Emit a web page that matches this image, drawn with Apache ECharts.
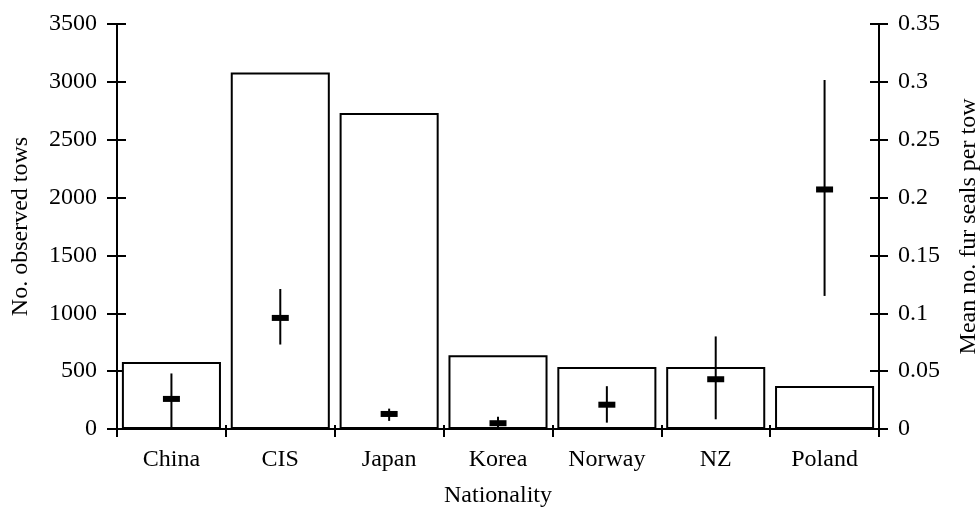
<!DOCTYPE html>
<html>
<head>
<meta charset="utf-8">
<script src="https://cdn.jsdelivr.net/npm/echarts@6/dist/echarts.min.js"></script>
<style>
  html, body { margin: 0; padding: 0; background: #fff; }
  #chart { width: 980px; height: 509px; }
</style>
</head>
<body>
<div id="chart"></div>
<script>
// Observed tows per fleet and mean fur-seal catch per tow (with interval)
const nations = ['China', 'CIS', 'Japan', 'Korea', 'Norway', 'NZ', 'Poland'];
const towCounts = [580, 3080, 2730, 637, 536, 536, 372];
const sealMean = [0.026, 0.096, 0.013, 0.005, 0.021, 0.043, 0.207];
const sealLow = [0.0, 0.073, 0.007, 0.0, 0.0055, 0.0084, 0.115];
const sealHigh = [0.048, 0.121, 0.0176, 0.0106, 0.037, 0.080, 0.3016];

const FONT = 'Liberation Serif';
const FS = 24;
const ink = '#000';

const errData = nations.map((n, i) => [i, sealMean[i], sealLow[i], sealHigh[i]]);

const chart = echarts.init(document.getElementById('chart'), null, { renderer: 'canvas' });

const leftBase = {
  type: 'value', min: 0, max: 3500, interval: 500, position: 'left', offset: 0,
  splitLine: { show: false }
};
const rightBase = {
  type: 'value', min: 0, max: 0.35, interval: 0.05, position: 'right', offset: 0,
  splitLine: { show: false }
};

chart.setOption({
  animation: false,
  backgroundColor: '#fff',
  textStyle: { fontFamily: FONT, color: ink },
  grid: { left: 117, right: 101, top: 24, bottom: 80, containLabel: false, outerBoundsMode: 'none' },
  xAxis: [
    {
      type: 'category', data: nations, position: 'bottom',
      axisLine: { lineStyle: { color: ink, width: 2 } },
      axisTick: { show: true, length: 8, lineStyle: { color: ink, width: 2 } },
      axisLabel: { color: ink, fontFamily: FONT, fontSize: FS, margin: 19 },
      name: 'Nationality', nameLocation: 'middle', nameGap: 55,
      nameTextStyle: { color: ink, fontFamily: FONT, fontSize: FS }
    },
    {
      type: 'category', data: nations, position: 'bottom', offset: 0,
      axisLine: { show: false },
      axisTick: { show: true, inside: true, length: 4, lineStyle: { color: ink, width: 2 } },
      axisLabel: { show: false }
    }
  ],
  yAxis: [
    Object.assign({}, leftBase, {
      axisLine: { show: true, lineStyle: { color: ink, width: 2 } },
      axisTick: { show: true, length: 10, lineStyle: { color: ink, width: 2 } },
      axisLabel: { color: ink, fontFamily: FONT, fontSize: FS, margin: 20,
        formatter: v => String(v) },
      name: 'No. observed tows', nameLocation: 'middle', nameGap: 84, nameRotate: 90,
      nameTextStyle: { color: ink, fontFamily: FONT, fontSize: FS }
    }),
    Object.assign({}, rightBase, {
      axisLine: { show: true, lineStyle: { color: ink, width: 2 } },
      axisTick: { show: true, length: 9, lineStyle: { color: ink, width: 2 } },
      axisLabel: { color: ink, fontFamily: FONT, fontSize: FS, margin: 19,
        formatter: v => String(+v.toFixed(2)) },
      name: 'Mean no. fur seals per tow', nameLocation: 'middle', nameGap: 78, nameRotate: 90,
      nameTextStyle: { color: ink, fontFamily: FONT, fontSize: FS }
    }),
    Object.assign({}, leftBase, {
      axisLine: { show: false },
      axisTick: { show: true, inside: true, length: 9, lineStyle: { color: ink, width: 2 } },
      axisLabel: { show: false }
    }),
    Object.assign({}, rightBase, {
      axisLine: { show: false },
      axisTick: { show: true, inside: true, length: 9, lineStyle: { color: ink, width: 2 } },
      axisLabel: { show: false }
    })
  ],
  series: [
    {
      name: 'Observed tows', type: 'bar', xAxisIndex: 0, yAxisIndex: 0,
      data: towCounts, barCategoryGap: '9%',
      itemStyle: { color: '#fff', borderColor: ink, borderWidth: 2 },
      z: 2
    },
    {
      name: 'Mean per tow', type: 'custom', xAxisIndex: 0, yAxisIndex: 1,
      data: errData, z: 5,
      renderItem: function (params, api) {
        const idx = api.value(0);
        const mid = api.coord([idx, api.value(1)]);
        const lo = api.coord([idx, api.value(2)]);
        const hi = api.coord([idx, api.value(3)]);
        const w = 17, h = 6;
        return {
          type: 'group',
          children: [
            {
              type: 'line',
              shape: { x1: mid[0], y1: hi[1], x2: mid[0], y2: lo[1] },
              style: { stroke: ink, lineWidth: 2 }
            },
            {
              type: 'rect',
              shape: { x: mid[0] - w / 2, y: mid[1] - h / 2, width: w, height: h },
              style: { fill: ink }
            }
          ]
        };
      }
    }
  ]
});
</script>
</body>
</html>
